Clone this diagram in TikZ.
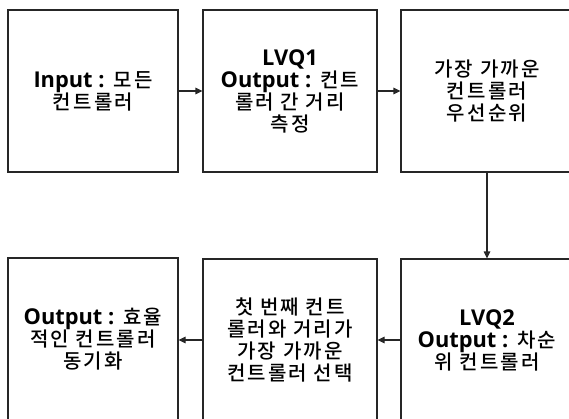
\documentclass[tikz,border=0pt]{standalone}
\usepackage{fontspec}
\setmainfont{Noto Sans CJK KR}[UprightFont={* Medium},BoldFont={* Bold},LetterSpace=11]
\newfontfamily\latfont{Open Sans}[Scale=1.09]
\newcommand\LatB[1]{{\latfont\bfseries #1}}
\usetikzlibrary{arrows.meta}
\tikzset{
  box/.style={draw=black!85, line width=1.1pt, minimum height=162pt, inner sep=0pt, align=center,
    font=\fontsize{20}{22}\selectfont},
  conn/.style={draw=black!85, line width=1.1pt, -{Triangle[length=7pt,width=6.5pt]}}
}
\begin{document}
\begin{tikzpicture}[x=1pt,y=1pt]
\useasboundingbox (0,0) rectangle (569,-419);
\clip (0,0) rectangle (569,-419);
\node[box, minimum width=170pt] (b1) at (93,-91) {\LatB{Input :} 모든\\컨트롤러};
\node[box, minimum width=174pt] (b2) at (290,-91) {\LatB{LVQ1}\\\LatB{Output :} 컨트\\롤러 간 거리\\측정};
\node[box, minimum width=172pt] (b3) at (487,-91) {가장 가까운\\컨트롤러\\우선순위};
\node[box, minimum width=170pt] (b4) at (93,-339) {\LatB{Output :} 효율\\적인 컨트롤러\\동기화};
\node[box, minimum width=174pt] (b5) at (290,-340) {첫 번째 컨트\\롤러와 거리가\\가장 가까운\\컨트롤러 선택};
\node[box, minimum width=172pt] (b6) at (487,-340) {\LatB{LVQ2}\\\LatB{Output :} 차순\\위 컨트롤러};
\draw[conn] (b1) -- (b2);
\draw[conn] (b2) -- (b3);
\draw[conn] (b3) -- (b6);
\draw[conn] (b6) -- (b5);
\draw[conn] (b5) -- (b4.east |- b5.west);
\end{tikzpicture}
\end{document}
